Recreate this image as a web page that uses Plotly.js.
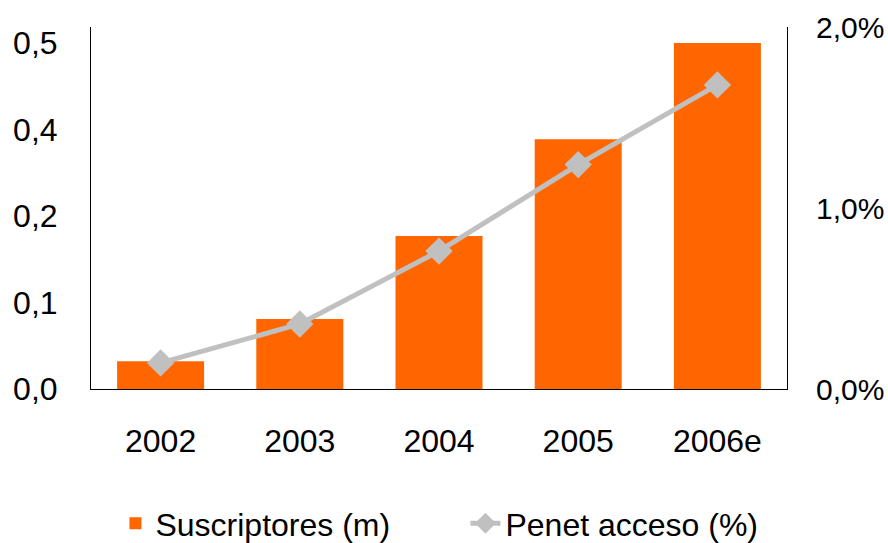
<!DOCTYPE html>
<html>
<head>
<meta charset="utf-8">
<script src="https://cdn.plot.ly/plotly-3.0.1.min.js"></script>
<style>
  html, body { margin: 0; padding: 0; background: #fff; }
  #graph { width: 888px; height: 543px; }
</style>
</head>
<body>
<div id="graph"></div>
<script>
// subscribers (millions) and access penetration (%) by year
var years = ["2002", "2003", "2004", "2005", "2006e"];
var suscriptores = [0.040, 0.101, 0.221, 0.361, 0.500];
var penetracion = [0.144, 0.359, 0.762, 1.24, 1.68];

var leftTicks = [0, 0.125, 0.25, 0.375, 0.5];
var leftTickText = ["0,0", "0,1", "0,2", "0,4", "0,5"];
var rightTicks = [0, 1, 2];
var rightTickText = ["0,0%", "1,0%", "2,0%"];

var fontFamily = "Liberation Sans, Arial, sans-serif";

var barTrace = {
  x: years,
  y: suscriptores,
  type: "bar",
  name: "Suscriptores (m)",
  marker: { color: "#ff6600" },
  yaxis: "y",
  hoverinfo: "skip"
};

var lineTrace = {
  x: years,
  y: penetracion,
  type: "scatter",
  mode: "lines+markers",
  name: "Penet acceso (%)",
  line: { color: "#c0c0c0", width: 5 },
  marker: { symbol: "diamond", size: 21, color: "#c0c0c0" },
  yaxis: "y2",
  hoverinfo: "skip"
};

var layout = {
  width: 888,
  height: 543,
  margin: { l: 91, r: 101, t: 27, b: 154 },
  paper_bgcolor: "#ffffff",
  plot_bgcolor: "#ffffff",
  font: { family: fontFamily, size: 32, color: "#000000" },
  bargap: 0.375,
  showlegend: true,
  legend: {
    orientation: "h",
    xref: "container",
    yref: "container",
    x: 0.13,
    xanchor: "left",
    y: 0.036,
    yanchor: "middle",
    entrywidth: 305,
    entrywidthmode: "pixels",
    font: { family: fontFamily, size: 32, color: "#000000" },
    traceorder: "normal"
  },
  xaxis: {
    type: "category",
    showline: true,
    linecolor: "#000000",
    linewidth: 1,
    showgrid: false,
    zeroline: false,
    ticks: "",
    ticklabelstandoff: 24,
    tickfont: { family: fontFamily, size: 32, color: "#000000" }
  },
  yaxis: {
    range: [0, 0.523],
    tickvals: leftTicks,
    ticktext: leftTickText,
    showline: true,
    linecolor: "#000000",
    linewidth: 1,
    showgrid: false,
    zeroline: false,
    ticks: "",
    ticklabelstandoff: 26,
    tickfont: { family: fontFamily, size: 32, color: "#000000" }
  },
  yaxis2: {
    overlaying: "y",
    side: "right",
    range: [0, 2],
    tickvals: rightTicks,
    ticktext: rightTickText,
    showline: true,
    linecolor: "#000000",
    linewidth: 1,
    showgrid: false,
    zeroline: false,
    ticks: "",
    ticklabelstandoff: 22,
    tickfont: { family: fontFamily, size: 30, color: "#000000" }
  }
};

Plotly.newPlot("graph", [barTrace, lineTrace], layout, { staticPlot: true, displayModeBar: false });
</script>
</body>
</html>
